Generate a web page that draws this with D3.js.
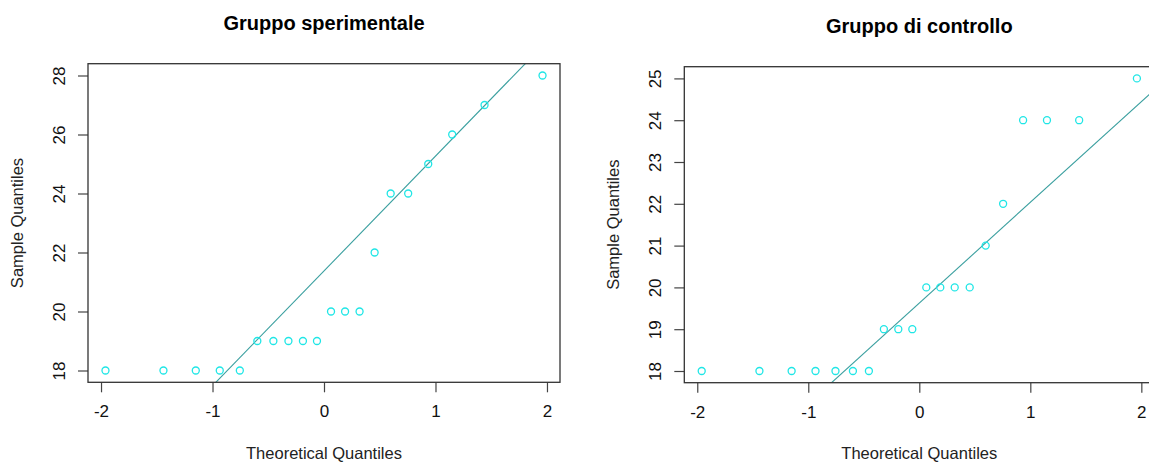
<!DOCTYPE html>
<html>
<head>
<meta charset="utf-8">
<script src="https://cdn.jsdelivr.net/npm/d3@7"></script>
<style>
  body { margin: 0; background: #fff; }
  text { font-family: "Liberation Sans", Arial, sans-serif; }
</style>
</head>
<body>
<svg id="chart" width="1149" height="463"></svg>
<script>
// quantili teorici (normale) per n = 20
var theoretical = [-1.960, -1.440, -1.150, -0.935, -0.755, -0.598, -0.454, -0.319, -0.189, -0.063,
                    0.063,  0.189,  0.319,  0.454,  0.598,  0.755,  0.935,  1.150,  1.440,  1.960];

// valori ordinati dei due gruppi
var sperimentale = [18, 18, 18, 18, 18, 19, 19, 19, 19, 19, 20, 20, 20, 22, 24, 24, 25, 26, 27, 28];
var controllo    = [18, 18, 18, 18, 18, 18, 18, 19, 19, 19, 20, 20, 20, 20, 21, 22, 24, 24, 24, 25];

var xTicks = [-2, -1, 0, 1, 2];
var yTicksSper = [18, 20, 22, 24, 26, 28];
var yTicksCtrl = [18, 19, 20, 21, 22, 23, 24, 25];

var qnorm75 = 0.6745; // qnorm(0.75)

var svg = d3.select("#chart");

// estensione del 4% come in R
function padded(ext) {
    var d = (ext[1] - ext[0]) * 0.04;
    return [ext[0] - d, ext[1] + d];
}

function drawPanel(p) {
    var x = d3.scaleLinear()
        .domain(padded(d3.extent(theoretical)))
        .range([p.left, p.right]);
    var y = d3.scaleLinear()
        .domain(padded(d3.extent(p.values)))
        .range([p.bottom, p.top]);

    var g = svg.append("g");

    g.append("clipPath").attr("id", p.id)
        .append("rect")
        .attr("x", p.left).attr("y", p.top)
        .attr("width", p.right - p.left).attr("height", p.bottom - p.top);

    // qqline: retta per il primo e terzo quartile
    var q1 = d3.quantile(p.values, 0.25), q3 = d3.quantile(p.values, 0.75);
    var slope = (q3 - q1) / (2 * qnorm75);
    var intercept = q1 + qnorm75 * slope;
    var xd = x.domain();

    g.append("line")
        .attr("clip-path", "url(#" + p.id + ")")
        .attr("x1", x(xd[0])).attr("y1", y(intercept + slope * xd[0]))
        .attr("x2", x(xd[1])).attr("y2", y(intercept + slope * xd[1]))
        .attr("stroke", "#3a9f9f")
        .attr("stroke-width", 1.1);

    g.selectAll("circle.pt")
        .data(p.values)
        .enter()
        .append("circle")
        .attr("class", "pt")
        .attr("cx", function(d, i){ return x(theoretical[i]); })
        .attr("cy", function(d){ return y(d); })
        .attr("r", 3.5)
        .attr("fill", "none")
        .attr("stroke", "#1fe6e6")
        .attr("stroke-width", 1.3);

    // assi
    var xAxis = g.append("g")
        .attr("transform", "translate(0," + p.bottom + ")")
        .call(d3.axisBottom(x).tickValues(xTicks).tickSize(10).tickPadding(13)
            .tickFormat(function(d){ return String(d); }));

    var yAxis = g.append("g")
        .attr("transform", "translate(" + p.left + ",0)")
        .call(d3.axisLeft(y).tickValues(p.yTicks).tickSize(10)
            .tickFormat(function(d){ return String(d); }));

    yAxis.selectAll("text")
        .attr("transform", "rotate(-90)")
        .attr("x", 0)
        .attr("y", -23)
        .attr("dy", 0)
        .style("text-anchor", "middle");

    [xAxis, yAxis].forEach(function(a){
        a.select(".domain").remove();
        a.selectAll("line").attr("stroke", "#444").attr("stroke-width", 1.2);
        a.selectAll("text").attr("fill", "#111").style("font-size", "17px")
            .style("font-family", "'Liberation Sans', Arial, sans-serif");
    });

    g.append("rect")
        .attr("x", p.left).attr("y", p.top)
        .attr("width", p.right - p.left).attr("height", p.bottom - p.top)
        .attr("fill", "none")
        .attr("stroke", "#333")
        .attr("stroke-width", 1.3);

    var cx = x(0);

    g.append("text")
        .attr("x", cx).attr("y", p.titleY)
        .attr("text-anchor", "middle")
        .style("font-size", "20px").style("font-weight", "bold")
        .attr("fill", "#000")
        .text(p.title);

    g.append("text")
        .attr("x", cx).attr("y", 459)
        .attr("text-anchor", "middle")
        .style("font-size", "16.5px")
        .attr("fill", "#222")
        .text("Theoretical Quantiles");

    var my = (p.top + p.bottom) / 2;
    g.append("text")
        .attr("transform", "translate(" + p.ylabX + "," + my + ") rotate(-90)")
        .attr("text-anchor", "middle")
        .style("font-size", "16.5px")
        .attr("fill", "#222")
        .text("Sample Quantiles");
}

drawPanel({
    id: "clipSper", values: sperimentale, yTicks: yTicksSper,
    title: "Gruppo sperimentale", titleY: 30,
    left: 88, right: 560, top: 63.7, bottom: 382.3, ylabX: 23
});

drawPanel({
    id: "clipCtrl", values: controllo, yTicks: yTicksCtrl,
    title: "Gruppo di controllo", titleY: 33,
    left: 684.3, right: 1154.3, top: 66.7, bottom: 382.7, ylabX: 619
});
</script>
</body>
</html>
